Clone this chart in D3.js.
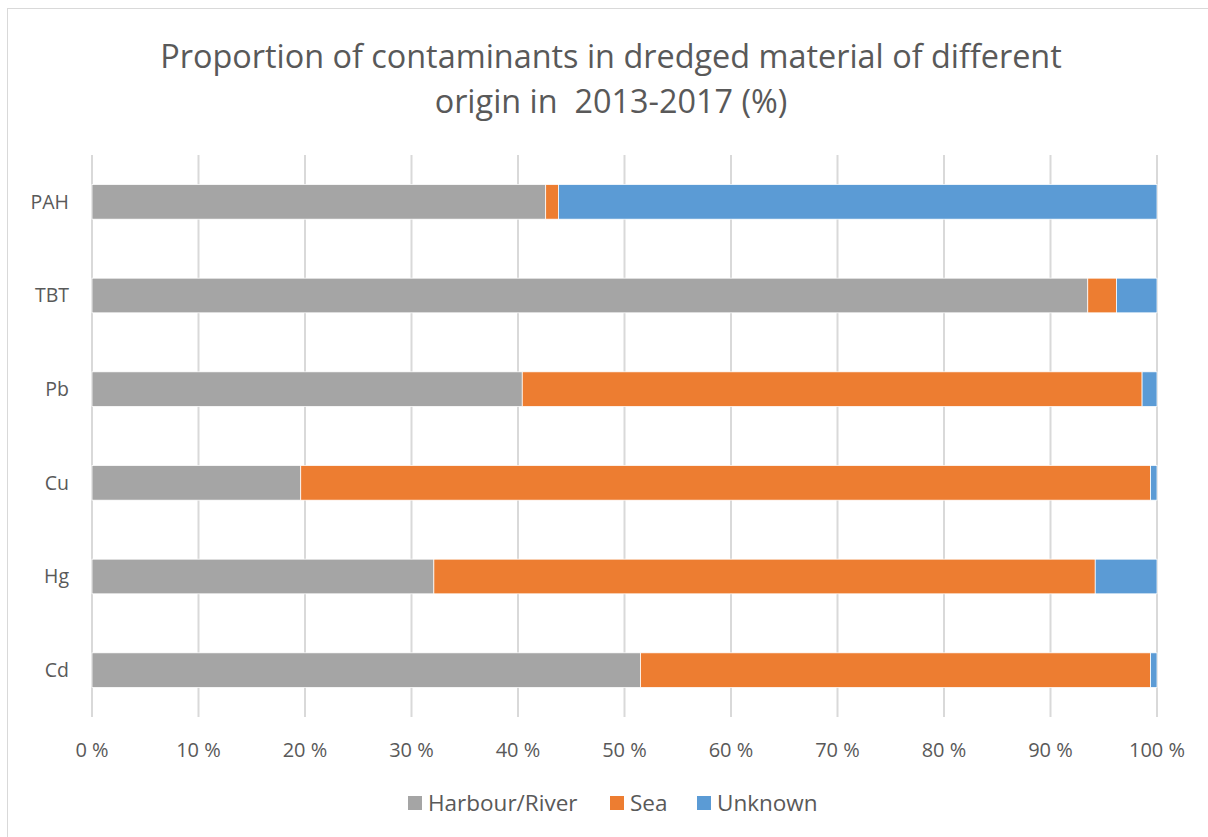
<!DOCTYPE html>
<html>
<head>
<meta charset="utf-8">
<script src="https://cdn.jsdelivr.net/npm/d3@7"></script>
<style>
  body { margin: 0; background: #fff; }
  text { font-family: "Open Sans", "DejaVu Sans", sans-serif; fill: #595959; }
</style>
</head>
<body>
<svg id="chart" width="1208" height="837"></svg>
<script>
const categories = ['PAH', 'TBT', 'Pb', 'Cu', 'Hg', 'Cd'];
const harbour = [42.6, 93.5, 40.4, 19.6, 32.1, 51.5];
const sea = [1.2, 2.7, 58.2, 79.8, 62.1, 47.9];
const unknown = [56.2, 3.8, 1.4, 0.6, 5.8, 0.6];
const seriesNames = ['Harbour/River', 'Sea', 'Unknown'];
const colors = ['#a5a5a5', '#ed7d31', '#5b9bd5'];
const ticks = d3.range(0, 101, 10);

const width = 1208, height = 837;
const margin = {top: 155, right: 51, bottom: 120, left: 92};

const svg = d3.select('#chart');

// outer frame
svg.append('rect')
  .attr('x', 7.5).attr('y', 8.5)
  .attr('width', width + 10).attr('height', height + 10)
  .attr('fill', 'none').attr('stroke', '#d9d9d9');

// title
svg.append('text')
  .attr('x', 611).attr('y', 0)
  .attr('text-anchor', 'middle')
  .style('font-size', '32.4px')
  .selectAll('tspan')
  .data(['Proportion of contaminants in dredged material of different', 'origin in  2013-2017 (%)'])
  .join('tspan')
  .attr('x', 611)
  .attr('y', (d, i) => 68 + i * 45)
  .style('white-space', 'pre')
  .text(d => d);

const table = categories.map((c, i) => ({cat: c, 0: harbour[i], 1: sea[i], 2: unknown[i]}));
const stacked = d3.stack().keys([0, 1, 2])(table);

const x = d3.scaleLinear().domain([0, 100]).range([margin.left, width - margin.right]);
const y = d3.scaleBand().domain(categories).range([margin.top, height - margin.bottom]).paddingInner(0.63).paddingOuter(0.315);

// gridlines
svg.append('g')
  .selectAll('line')
  .data(ticks)
  .join('line')
  .attr('x1', d => x(d)).attr('x2', d => x(d))
  .attr('y1', margin.top).attr('y2', height - margin.bottom)
  .attr('stroke', '#d9d9d9').attr('stroke-width', 2);

// bars
svg.append('g')
  .selectAll('g')
  .data(stacked)
  .join('g')
  .attr('fill', (d, i) => colors[i])
  .selectAll('rect')
  .data(d => d)
  .join('rect')
  .attr('x', d => x(d[0]))
  .attr('y', d => y(d.data.cat))
  .attr('width', d => x(d[1]) - x(d[0]))
  .attr('height', y.bandwidth())
  .attr('stroke', '#fff')
  .attr('stroke-width', 0.75);

// y labels
svg.append('g')
  .selectAll('text')
  .data(categories)
  .join('text')
  .attr('x', 69)
  .attr('y', d => y(d) + y.bandwidth() / 2)
  .attr('dy', '0.35em')
  .attr('text-anchor', 'end')
  .style('font-size', '19.5px')
  .text(d => d);

// x tick labels
svg.append('g')
  .selectAll('text')
  .data(ticks)
  .join('text')
  .attr('x', d => x(d))
  .attr('y', 757)
  .attr('text-anchor', 'middle')
  .style('font-size', '20px')
  .text(d => d + ' %');

// legend
const legendX = [408, 610, 697];
const legend = svg.append('g')
  .selectAll('g')
  .data(seriesNames)
  .join('g')
  .attr('transform', (d, i) => `translate(${legendX[i]},0)`);
legend.append('rect')
  .attr('x', 0).attr('y', 796)
  .attr('width', 14).attr('height', 14)
  .attr('fill', (d, i) => colors[i]);
legend.append('text')
  .attr('x', 20).attr('y', 811)
  .style('font-size', '22.5px')
  .text(d => d);
</script>
</body>
</html>
